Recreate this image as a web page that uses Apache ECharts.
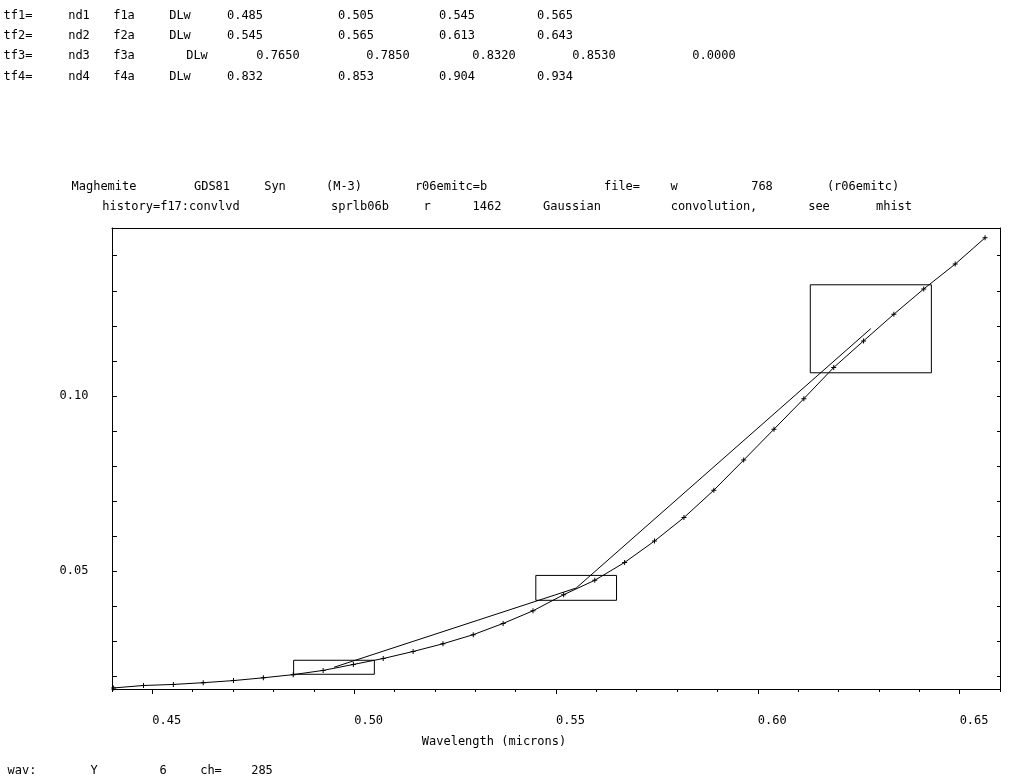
<!DOCTYPE html>
<html><head><meta charset="utf-8">
<script src="https://cdn.jsdelivr.net/npm/echarts@6/dist/echarts.min.js"></script>
<style>html,body{margin:0;padding:0;background:#fff}#c{width:1024px;height:780px}</style>
</head><body><div id="c"></div><script>
// ---- data ----
const wavelength = [0.4404, 0.4478, 0.4552, 0.4626, 0.4701, 0.4775, 0.4849, 0.4923, 0.4998, 0.5072,
  0.5146, 0.5220, 0.5295, 0.5369, 0.5443, 0.5519, 0.5596, 0.5670, 0.5744, 0.5817,
  0.5891, 0.5965, 0.6040, 0.6114, 0.6188, 0.6262, 0.6337, 0.6411, 0.6489, 0.6563];
const reflectance = [0.0167, 0.0174, 0.0177, 0.0182, 0.0188, 0.0196, 0.0205, 0.0217, 0.0234, 0.0251,
  0.0271, 0.0293, 0.0319, 0.0351, 0.0387, 0.0433, 0.0474, 0.0525, 0.0586, 0.0653,
  0.0731, 0.0817, 0.0905, 0.0992, 0.1081, 0.1157, 0.1233, 0.1305, 0.1376, 0.1451];
const continuumX = [0.495, 0.555, 0.628];
const continuumY = [0.0226, 0.0452, 0.1192];
const boxXLo = [0.485, 0.545, 0.613];
const boxXHi = [0.505, 0.565, 0.643];
const boxYLo = [0.0206, 0.0417, 0.1066];
const boxYHi = [0.0246, 0.0488, 0.1317];
const xMajorTicks = [0.45, 0.50, 0.55, 0.60, 0.65];
const xMinorTicks = [0.44, 0.46, 0.47, 0.48, 0.49, 0.51, 0.52, 0.53, 0.54, 0.56, 0.57, 0.58, 0.59, 0.61, 0.62, 0.63, 0.64, 0.66];
const yTicks = [0.02, 0.03, 0.04, 0.05, 0.06, 0.07, 0.08, 0.09, 0.10, 0.11, 0.12, 0.13, 0.14];
const yLabelTicks = [0.05, 0.10];
const headerTokens = [
  ['tf1=', 'nd1', 'f1a', 'DLw', '0.485', '0.505', '0.545', '0.565'],
  ['tf2=', 'nd2', 'f2a', 'DLw', '0.545', '0.565', '0.613', '0.643'],
  ['tf3=', 'nd3', 'f3a', 'DLw', '0.7650', '0.7850', '0.8320', '0.8530', '0.0000'],
  ['tf4=', 'nd4', 'f4a', 'DLw', '0.832', '0.853', '0.904', '0.934']
];
const titleTokens = [
  ['Maghemite', 'GDS81', 'Syn', '(M-3)', 'r06emitc=b', 'file=', 'w', '768', '(r06emitc)'],
  ['history=f17:convlvd', 'sprlb06b', 'r', '1462', 'Gaussian', 'convolution,', 'see', 'mhist']
];
const footerTokens = ['wav:', 'Y', '6', 'ch=', '285'];
const xAxisTitle = 'Wavelength (microns)';

// ---- layout (positions only) ----
const headerY = [16, 36, 56, 77];
const headerX = [
  [18, 79, 124, 180, 245, 356, 457, 555],
  [18, 79, 124, 180, 245, 356, 457, 555],
  [18, 79, 124, 197, 278, 388, 494, 594, 714],
  [18, 79, 124, 180, 245, 356, 457, 555]
];
const titleY = [187, 207];
const titleX = [
  [104, 212, 275, 344, 451, 622, 674, 762, 863],
  [171, 360, 427, 487, 572, 714, 819, 894]
];
const footerX = [22, 94, 163, 211, 262];
const FONT = '12px "DejaVu Sans Mono", monospace';

const graphic = [];
function addText(t, x, y) {
  graphic.push({ type: 'text', x: x, y: y, silent: true,
    style: { text: t, font: FONT, fill: '#000', align: 'center', verticalAlign: 'middle',
      textAlign: 'center', textVerticalAlign: 'middle' } });
}
headerTokens.forEach((row, i) => row.forEach((t, j) => addText(t, headerX[i][j], headerY[i])));
titleTokens.forEach((row, i) => row.forEach((t, j) => addText(t, titleX[i][j], titleY[i])));
footerTokens.forEach((t, j) => addText(t, footerX[j], 771));
addText(xAxisTitle, 494, 742);

const dataPairs = wavelength.map((w, i) => [w, reflectance[i]]);
const contPairs = continuumX.map((w, i) => [w, continuumY[i]]);
const boxes = boxXLo.map((x0, i) => [{ coord: [x0, boxYHi[i]] }, { coord: [boxXHi[i], boxYLo[i]] }]);

const XMIN = 0.44, XMAX = 0.66, YMIN = 0.0164, YMAX = 0.1479;
const black = '#000';

const chart = echarts.init(document.getElementById('c'), null, { renderer: 'canvas' });
chart.setOption({
  animation: false,
  backgroundColor: '#fff',
  grid: { left: 112, top: 228, width: 888, height: 461, containLabel: false },
  graphic: graphic,
  xAxis: [
    { type: 'value', min: XMIN, max: XMAX, position: 'bottom',
      axisLine: { show: true, lineStyle: { color: black, width: 1 } },
      axisTick: { show: true, inside: false, length: 5, customValues: xMajorTicks, lineStyle: { color: black } },
      axisLabel: { show: true, customValues: xMajorTicks, align: 'left', margin: 26,
        formatter: v => v.toFixed(2), color: black, fontFamily: '"DejaVu Sans Mono", monospace', fontSize: 12 },
      splitLine: { show: false } },
    { type: 'value', min: XMIN, max: XMAX, position: 'bottom',
      axisLine: { show: false },
      axisTick: { show: true, inside: false, length: 3, customValues: xMinorTicks, lineStyle: { color: black } },
      axisLabel: { show: false }, splitLine: { show: false } },
    { type: 'value', min: XMIN, max: XMAX, position: 'top',
      axisLine: { show: true, lineStyle: { color: black, width: 1 } },
      axisTick: { show: false }, axisLabel: { show: false }, splitLine: { show: false } }
  ],
  yAxis: [
    { type: 'value', min: YMIN, max: YMAX, position: 'left',
      axisLine: { show: true, lineStyle: { color: black, width: 1 } },
      axisTick: { show: true, inside: true, length: 5, customValues: yTicks, lineStyle: { color: black } },
      axisLabel: { show: true, customValues: yLabelTicks, align: 'center', margin: 38,
        formatter: v => v.toFixed(2), color: black, fontFamily: '"DejaVu Sans Mono", monospace', fontSize: 12 },
      splitLine: { show: false } },
    { type: 'value', min: YMIN, max: YMAX, position: 'right',
      axisLine: { show: true, lineStyle: { color: black, width: 1 } },
      axisTick: { show: true, inside: true, length: 3, customValues: yTicks, lineStyle: { color: black } },
      axisLabel: { show: false }, splitLine: { show: false } }
  ],
  series: [
    { type: 'line', xAxisIndex: 0, yAxisIndex: 0, data: dataPairs, silent: true,
      symbol: 'path://M2,0H3V2H5V3H3V5H2V3H0V2H2Z', symbolSize: 5, showSymbol: true,
      lineStyle: { color: black, width: 1 }, itemStyle: { color: black },
      markArea: { silent: true, itemStyle: { color: 'rgba(0,0,0,0)', borderColor: black, borderWidth: 1 },
        label: { show: false }, data: boxes } },
    { type: 'line', xAxisIndex: 0, yAxisIndex: 0, data: contPairs, silent: true,
      symbol: 'none', lineStyle: { color: black, width: 1 } }
  ]
});
</script></body></html>
